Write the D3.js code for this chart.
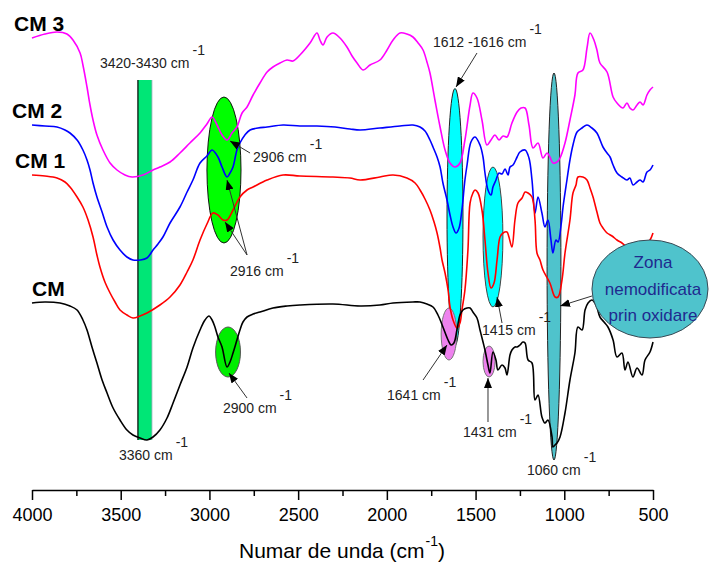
<!DOCTYPE html>
<html><head><meta charset="utf-8">
<script src="https://cdn.jsdelivr.net/npm/d3@7"></script>
<style>body{margin:0;background:#fff} text{font-family:Arial,"Liberation Sans",sans-serif}</style>
</head><body><svg id="c" width="713" height="565"></svg>
<script>
// ---------- data ----------
const seriesNames = ["CM 3", "CM 2", "CM 1", "CM"];
const seriesColors = ["#ff00ff", "#0000ff", "#ff0000", "#000000"];

const cm3 = [[4000,90.4],[3927,91.2],[3859,91.6],[3803,91.2],[3769,90],[3729,87.4],[3713,85],[3690,80.6],[3673,77],[3656,74],[3634,71],[3600,68],[3560,65.4],[3521,64],[3476,63],[3436,62.6],[3374,63],[3318,64],[3279,64.6],[3222,65.6],[3166,67.4],[3110,69.4],[3053,71.4],[3014,73.2],[2985,74.6],[2957,73],[2929,71],[2901,70],[2873,71.4],[2845,72.6],[2816,75.4],[2788,76.6],[2754,79],[2715,81.4],[2675,83.6],[2642,84.6],[2602,85.4],[2563,86],[2529,85.8],[2490,87],[2433,89.4],[2394,91.4],[2377,90],[2360,89],[2337,90.6],[2304,91.4],[2264,90.4],[2225,88.6],[2196,86.8],[2168,85.4],[2134,84],[2095,85],[2039,86],[1999,88],[1965,90],[1926,91.4],[1887,91.2],[1853,90.6],[1824,89.4],[1796,88],[1774,85.6],[1757,83.4],[1729,78],[1700,72.6],[1672,68],[1644,65.4],[1616,64.6],[1588,65.4],[1560,70],[1531,77],[1515,79.4],[1492,78.4],[1464,74],[1436,69],[1413,70],[1391,71],[1368,70],[1345,70.8],[1323,70.6],[1295,73.4],[1266,75.6],[1244,76.4],[1221,76.4],[1199,73],[1176,68.4],[1148,69.4],[1120,66.4],[1097,67.4],[1081,66.6],[1064,65.4],[1041,65.6],[1024,66.4],[996,69.4],[968,74],[940,79],[923,83.4],[895,84],[872,88.4],[855,91.4],[833,90],[816,88],[799,85.4],[759,83.6],[725,78.6],[703,77.4],[669,76.4],[647,77.4],[630,76.4],[613,76],[590,77],[573,77.6],[556,77],[534,79],[517,80],[500,80.6]];

const cm2 = [[4000,73],[3927,72.8],[3859,72.6],[3814,72],[3786,71.4],[3746,70],[3713,68],[3690,66],[3673,64],[3656,61.4],[3634,58.6],[3605,55.6],[3577,52.6],[3543,50],[3504,48],[3465,46.6],[3431,46],[3391,46],[3352,46.4],[3318,48],[3290,49.2],[3262,50.6],[3222,53.4],[3166,56.6],[3126,59.6],[3093,62],[3053,65.4],[3014,66.8],[2985,68],[2952,66.6],[2929,64.6],[2901,62.6],[2884,63.4],[2867,64.6],[2845,68],[2828,69.4],[2800,71],[2771,72],[2726,72.4],[2675,72.6],[2585,73],[2490,72.8],[2394,72.8],[2292,72.6],[2208,72.2],[2151,72],[2039,72.4],[1926,72.8],[1853,73],[1813,72.6],[1785,71.8],[1757,70],[1740,68.6],[1717,66.6],[1700,64.6],[1684,61.4],[1661,58],[1644,55],[1627,52.6],[1610,51.4],[1593,52.4],[1577,56],[1560,62],[1548,65],[1526,69.6],[1503,70.6],[1475,69],[1458,66.6],[1447,63.4],[1430,60],[1413,59],[1402,60.6],[1385,62],[1368,63.4],[1351,63.2],[1334,64.2],[1317,63],[1306,64.6],[1289,65],[1266,66.6],[1250,67.6],[1221,68],[1199,66.4],[1182,62],[1165,55.4],[1148,58.6],[1126,55.4],[1109,52.6],[1092,54],[1075,50],[1064,47.4],[1047,50],[1035,49.6],[1018,53],[1007,56.6],[985,62],[968,66],[951,69],[928,71.6],[900,72.4],[872,73],[844,72.4],[816,71.4],[782,68.6],[759,67.4],[742,66.6],[725,65],[703,63.4],[675,62.6],[647,62],[630,62.4],[613,61],[590,61.6],[573,62],[556,61.6],[534,63.6],[517,64],[500,65]];

const cm1 = [[4000,63],[3927,62.8],[3859,62.4],[3814,61.6],[3786,60.6],[3746,58.6],[3713,56.6],[3684,54],[3656,50.6],[3634,47],[3617,44.6],[3589,41.6],[3560,39.4],[3532,37.6],[3504,36],[3465,35],[3431,34.4],[3391,34.8],[3352,35.4],[3279,37],[3222,38.6],[3166,41],[3126,43.6],[3093,46],[3053,50],[3014,53.2],[2980,55.4],[2952,55],[2924,54],[2901,54],[2867,56],[2828,58.6],[2788,60],[2754,60.6],[2675,62],[2585,63],[2490,62.8],[2304,62.6],[2208,62.4],[2151,62],[2039,62.6],[1965,63],[1887,62.4],[1841,61.4],[1813,60],[1785,58.2],[1757,56],[1734,53.6],[1717,51.4],[1700,48.4],[1689,46],[1672,43.4],[1655,40],[1644,36.6],[1627,34],[1605,32.4],[1588,33.4],[1577,36],[1560,40],[1543,48],[1531,57.4],[1515,59.4],[1503,60],[1486,59.4],[1464,56],[1447,50],[1430,43.4],[1413,40.4],[1396,41.4],[1379,46],[1362,50.6],[1345,51.4],[1323,51.6],[1312,50.6],[1295,48.6],[1278,54],[1261,57.4],[1238,58.4],[1221,59.6],[1204,59.4],[1182,58.6],[1165,54],[1154,47.4],[1137,46],[1120,44],[1081,41.4],[1052,38.6],[1035,38.6],[1013,42],[996,47.4],[968,54],[951,59.4],[934,61],[923,62.6],[895,62.6],[872,62],[855,60.4],[838,58.6],[816,55.6],[799,53.4],[782,52.4],[759,51.4],[731,50.8],[703,50],[675,49.4],[647,48.6],[601,48.4],[573,48.6],[545,49],[517,50],[500,51.4]];

const cm0 = [[4000,37.4],[3927,37.6],[3842,37.4],[3786,36.8],[3746,36],[3713,34],[3690,32],[3662,28.6],[3634,25.4],[3605,22],[3577,19.4],[3543,16.4],[3504,14],[3465,12],[3431,11],[3391,10.4],[3352,10],[3318,10.6],[3279,12],[3239,14.4],[3205,17.4],[3166,21],[3126,24.6],[3093,28.4],[3053,32],[3025,34],[3002,34.8],[2985,34],[2969,32.6],[2952,30.6],[2929,28.6],[2901,24.6],[2884,25.6],[2867,27.4],[2845,30],[2828,32],[2811,33.6],[2788,34.6],[2754,35.2],[2715,35.6],[2642,36.4],[2563,36.8],[2490,37],[2304,37.2],[2151,36.8],[2039,37],[1965,37.4],[1853,37.6],[1813,37.6],[1774,37.2],[1740,36.6],[1712,35],[1684,32.6],[1655,30],[1638,29],[1622,29.4],[1605,32],[1588,35],[1571,36],[1548,36.4],[1531,36.4],[1515,35.6],[1492,34.4],[1475,32],[1458,29.6],[1447,28],[1430,25],[1419,23.4],[1402,27.6],[1385,26],[1374,24],[1351,25],[1334,24.4],[1323,23],[1306,27],[1295,28],[1278,28.6],[1266,28.6],[1250,29],[1233,29.6],[1221,29.4],[1204,26],[1182,25.4],[1165,18],[1148,19],[1126,14.6],[1109,13.4],[1092,14],[1069,10.6],[1064,8.6],[1052,9],[1041,9.4],[1024,10.6],[996,15.4],[968,22],[940,27.4],[923,32.6],[900,32],[883,36],[866,37.4],[844,38],[821,37],[799,34.6],[776,33.6],[754,32.6],[725,30],[703,26.6],[675,27.4],[658,24],[641,25.6],[613,22.6],[590,24.4],[562,23],[545,26],[517,27.6],[500,29.6]];

const seriesData = [cm3, cm2, cm1, cm0];

const xTicks = [4000, 3500, 3000, 2500, 2000, 1500, 1000, 500];
const xMinorTicks = [3750, 3250, 2750, 2250, 1750, 1250, 750];
const xTitle = "Numar de unda (cm";

// annotations (in data units: wavenumber, value)
const bandRange = [3403, 3324, 10, 82];
const ellipses = [
  {w:2918, v:64,   dw:96, dv:14.6, fill:"#00ff00", stroke:"#111"},
  {w:2895, v:27.6, dw:70, dv:5,    fill:"#00ee00", stroke:"#555"},
  {w:1616, v:54.6, dw:45, dv:25.7, fill:"#00ffff", stroke:"#222"},
  {w:1402, v:50.6, dw:56, dv:14,   fill:"#00ffff", stroke:"#444"},
  {w:1058, v:44.7, dw:39, dv:38.7, fill:"#4fc3cc", stroke:"#222"},
  {w:1650, v:31.2, dw:44, dv:5.2,  fill:"#ee82ee", stroke:"#777"},
  {w:1424, v:25.7, dw:34, dv:3.1,  fill:"#ee82ee", stroke:"#777"}
];
const zona = {w:517, v:40.2, dw:327, dv:9.8, lines:["Zona","nemodificata","prin oxidare"]};
const arrows = [
  [1492,87.4,1610,80.6],
  [2771,67.4,2884,69.8],
  [2788,47,2901,62],
  [2788,47,2912,53.6],
  [2788,18.4,2890,23.4],
  [1796,22,1661,29],
  [1430,13.6,1430,22.4],
  [1351,33.4,1379,38.6],
  [844,38.8,1024,36.8]
];
const peakLabels = [
  {t:"3420-3430 cm", w:3617, v:84.4},
  {t:"2906 cm", w:2754, v:65.6},
  {t:"2916 cm", w:2884, v:42.8},
  {t:"2900 cm", w:2924, v:15.4},
  {t:"3360 cm", w:3510, v:6},
  {t:"1612 -1616 cm", w:1740, v:88.6},
  {t:"1641 cm", w:1999, v:18},
  {t:"1431 cm", w:1571, v:10.6},
  {t:"1415 cm", w:1464, v:31},
  {t:"1060 cm", w:1210, v:3}
];

// ---------- drawing ----------
const svg = d3.select("#c");
svg.append("rect").attr("width",713).attr("height",565).attr("fill","#fff");
const x = d3.scaleLinear().domain([4000, 500]).range([32, 653]);
const y = d3.scaleLinear().domain([0, 95]).range([490, 15]);

const defs = svg.append("defs");
defs.append("marker").attr("id","ah").attr("markerUnits","userSpaceOnUse")
  .attr("markerWidth",11).attr("markerHeight",8).attr("refX",10).attr("refY",4)
  .attr("orient","auto")
  .append("path").attr("d","M0,0 L10,4 L0,8 Z").attr("fill","#000");

// band
const bx1 = x(bandRange[0]), bx2 = x(bandRange[1]);
const by1 = y(bandRange[3]), by2 = y(bandRange[2]);
svg.append("rect").attr("x",bx1).attr("y",by1).attr("width",bx2-bx1).attr("height",by2-by1)
  .attr("fill","#00e676");
svg.append("line").attr("x1",bx1).attr("x2",bx1).attr("y1",by1).attr("y2",by2).attr("stroke","#000").attr("stroke-width",1.2);
svg.append("line").attr("x1",bx2).attr("x2",bx2).attr("y1",by1).attr("y2",by2).attr("stroke","#9ab").attr("stroke-width",0.8);

// ellipses
function ell(g, e){
  return g.append("ellipse").attr("cx",x(e.w)).attr("cy",y(e.v))
    .attr("rx",Math.abs(x(e.w+e.dw)-x(e.w))).attr("ry",Math.abs(y(e.v+e.dv)-y(e.v)));
}
ellipses.forEach(e=>{
  ell(svg,e).attr("fill",e.fill).attr("stroke",e.stroke).attr("stroke-width",1);
});

// curves
const line = d3.line().x(d=>x(d[0])).y(d=>y(d[1])).curve(d3.curveCatmullRom.alpha(0.5));
seriesData.forEach((s,i)=>{
  svg.append("path").datum(s).attr("d",line).attr("fill","none")
    .attr("stroke",seriesColors[i]).attr("stroke-width",1.6).attr("stroke-linejoin","round");
});

// series labels
const labelX = [14, 12, 15, 32];
seriesNames.forEach((n,i)=>{
  svg.append("text").attr("x",labelX[i]).attr("y",y(seriesData[i][0][1])-7)
    .attr("font-size",21).attr("font-weight","bold").attr("fill","#000").text(n);
});

// zona ellipse
ell(svg,zona).attr("fill","#4fc3cc").attr("stroke","#3a4a55").attr("stroke-width",1);
const zt = svg.append("text").attr("font-size",17).attr("fill","#1f2a8f").attr("text-anchor","middle");
zona.lines.forEach((l,i)=>{
  zt.append("tspan").attr("x",x(zona.w)+3).attr("y",y(zona.v)-21+i*26.5).text(l);
});

// arrows
arrows.forEach(a=>{
  svg.append("line").attr("x1",x(a[0])).attr("y1",y(a[1])).attr("x2",x(a[2])).attr("y2",y(a[3]))
    .attr("stroke","#333").attr("stroke-width",1).attr("marker-end","url(#ah)");
});

// peak labels
peakLabels.forEach(p=>{
  const t = svg.append("text").attr("x",x(p.w)).attr("y",y(p.v)).attr("font-size",14).attr("fill","#222");
  t.append("tspan").text(p.t);
  t.append("tspan").attr("dx",3).attr("dy",-13).text("-1");
});

// axis
const axisG = svg.append("g").attr("transform","translate(0,490)");
axisG.call(d3.axisBottom(x).tickValues(xTicks).tickSize(10).tickSizeOuter(0).tickFormat(d3.format("d")).tickPadding(8));
axisG.select(".domain").attr("stroke","#000").attr("stroke-width",1.5);
axisG.selectAll(".tick line").attr("stroke","#000").attr("stroke-width",1.5);
axisG.selectAll(".tick text").attr("font-size",18).attr("fill","#000").attr("font-family","Arial, 'Liberation Sans', sans-serif");
const minorG = svg.append("g").attr("transform","translate(0,490)");
minorG.call(d3.axisBottom(x).tickValues(xMinorTicks).tickSize(6).tickSizeOuter(0).tickFormat(""));
minorG.select(".domain").remove();
minorG.selectAll(".tick line").attr("stroke","#000").attr("stroke-width",1.5);

const title = svg.append("text").attr("x",342).attr("y",558).attr("text-anchor","middle")
  .attr("font-size",21).attr("fill","#000");
title.append("tspan").text(xTitle);
title.append("tspan").attr("font-size",14).attr("dy",-12).attr("dx",1).text("-1");
title.append("tspan").attr("dy",12).text(")");
</script></body></html>
